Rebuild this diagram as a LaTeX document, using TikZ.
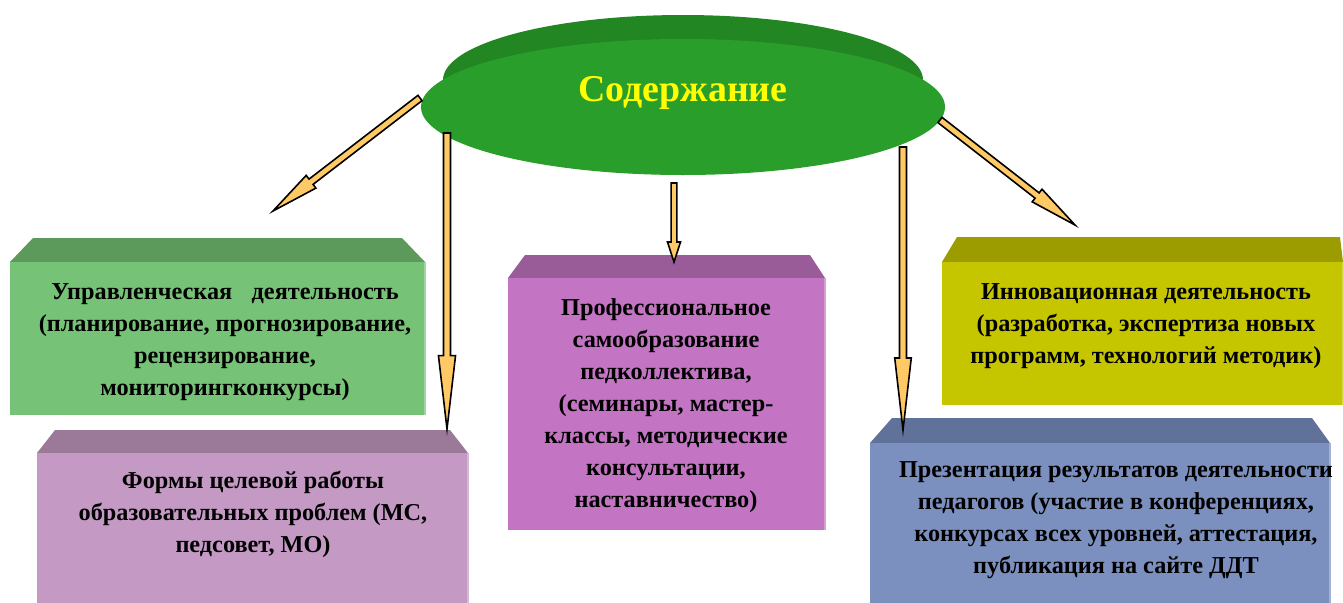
\documentclass[tikz,border=0pt]{standalone}
\usepackage{fontspec}
\setmainfont{Liberation Serif}
\usetikzlibrary{calc}
\definecolor{arrowc}{HTML}{FFC966}
\definecolor{elllight}{HTML}{2A9E2A}
\definecolor{elldark}{HTML}{228622}
\definecolor{gfront}{HTML}{76C276}
\definecolor{gtop}{HTML}{5C9A5C}
\definecolor{pfront}{HTML}{C49AC4}
\definecolor{ptop}{HTML}{9A7A98}
\definecolor{mfront}{HTML}{C374C3}
\definecolor{mtop}{HTML}{9A5C98}
\definecolor{yfront}{HTML}{C6C600}
\definecolor{ytop}{HTML}{9C9C00}
\definecolor{bfront}{HTML}{7C90C0}
\definecolor{btop}{HTML}{60729A}
\tikzset{
  txt/.style={font=\bfseries\fontsize{18.2}{24}\selectfont, align=center, text=black, inner sep=0pt},
  title/.style={font=\bfseries\fontsize{28.4}{34}\selectfont, text={rgb,255:red,255;green,255;blue,0}, inner sep=0pt},
  arr/.style={fill=arrowc, draw=black, line width=1.2pt, line join=miter},
}
% #1 start, #2 end, #3 head length, #4 shaft half width, #5 head half width
\newcommand\fatarrow[5]{%
  \coordinate (hb) at ($(#2)!#3!(#1)$);
  \filldraw[arr] ($(#1)!#4!90:(#2)$) -- ($(hb)!#4!90:(#2)$) -- ($(hb)!#5!90:(#2)$) -- (#2)
    -- ($(hb)!#5!-90:(#2)$) -- ($(hb)!#4!-90:(#2)$) -- ($(#1)!#4!-90:(#2)$) -- cycle;
}
% x1 x2 ytop ybevel ybottom tx1 tx2 front top
\newcommand\threedbox[9]{%
  \fill[#9] (#6,#3) -- (#7,#3) -- (#2,#4) -- (#1,#4) -- cycle;
  \fill[#8] (#1,#4) rectangle (#2,#5);
  \draw[#8!70!white, line width=1pt] (#2,#4) -- (#2,#5);
}
\begin{document}
\begin{tikzpicture}[x=0.75pt,y=-0.75pt]
\useasboundingbox (0,0) rectangle (1343,603);
% boxes
\threedbox{10}{425}{238}{262}{415}{33}{402}{gfront}{gtop}
\threedbox{37}{468}{430}{453}{603}{55}{450}{pfront}{ptop}
\threedbox{508}{825}{255}{278}{530}{525}{810}{mfront}{mtop}
\threedbox{942}{1343}{237}{262}{405}{957}{1340}{yfront}{ytop}
\threedbox{870}{1330}{418}{443}{603}{892}{1312}{bfront}{btop}
% ellipse (3D disk)
\fill[elldark] (683,80) ellipse [x radius=240, y radius=65];
\fill[elldark] (443,80) -- (923,80) -- (945,107) -- (421,107) -- cycle;
\fill[elllight] (683,107) ellipse [x radius=262, y radius=68];
\node[title] (cont) at (683,93) {Содержание};
% arrow anchors
\coordinate (a1) at (420,98);   \coordinate (e1) at (273,211);
\coordinate (a2) at (447,133);  \coordinate (e2) at (447,429);
\coordinate (a3) at (674,183);  \coordinate (e3) at (674,262);
\coordinate (a4) at (903,147);  \coordinate (e4) at (903,430);
\coordinate (a5) at (940,120);  \coordinate (e5) at (1075,225);
\fatarrow{a1}{e1}{36pt}{2.5pt}{6pt}
\fatarrow{a2}{e2}{55pt}{2.6pt}{6.4pt}
\fatarrow{a3}{e3}{15pt}{2.2pt}{4.9pt}
\fatarrow{a4}{e4}{54pt}{2.6pt}{6.2pt}
\fatarrow{a5}{e5}{36pt}{2.5pt}{6pt}
% texts
\node[txt] (t1) at (225,342) {Управленческая\hspace{0.8em}деятельность\\(планирование, прогнозирование,\\рецензирование,\\мониторингконкурсы)};
\node[txt] (t2) at (253,514) {Формы целевой работы\\образовательных проблем (МС,\\педсовет, МО)};
\node[txt] (t3) at (666,406) {Профессиональное\\самообразование\\педколлектива,\\(семинары, мастер-\\классы, методические\\консультации,\\наставничество)};
\node[txt] (t4) at (1146,326) {Инновационная деятельность\\(разработка, экспертиза новых\\программ, технологий методик)};
\node[txt] (t5) at (1116,520) {Презентация результатов деятельности\\педагогов (участие в конференциях,\\конкурсах всех уровней, аттестация,\\публикация на сайте ДДТ};
\end{tikzpicture}
\end{document}
